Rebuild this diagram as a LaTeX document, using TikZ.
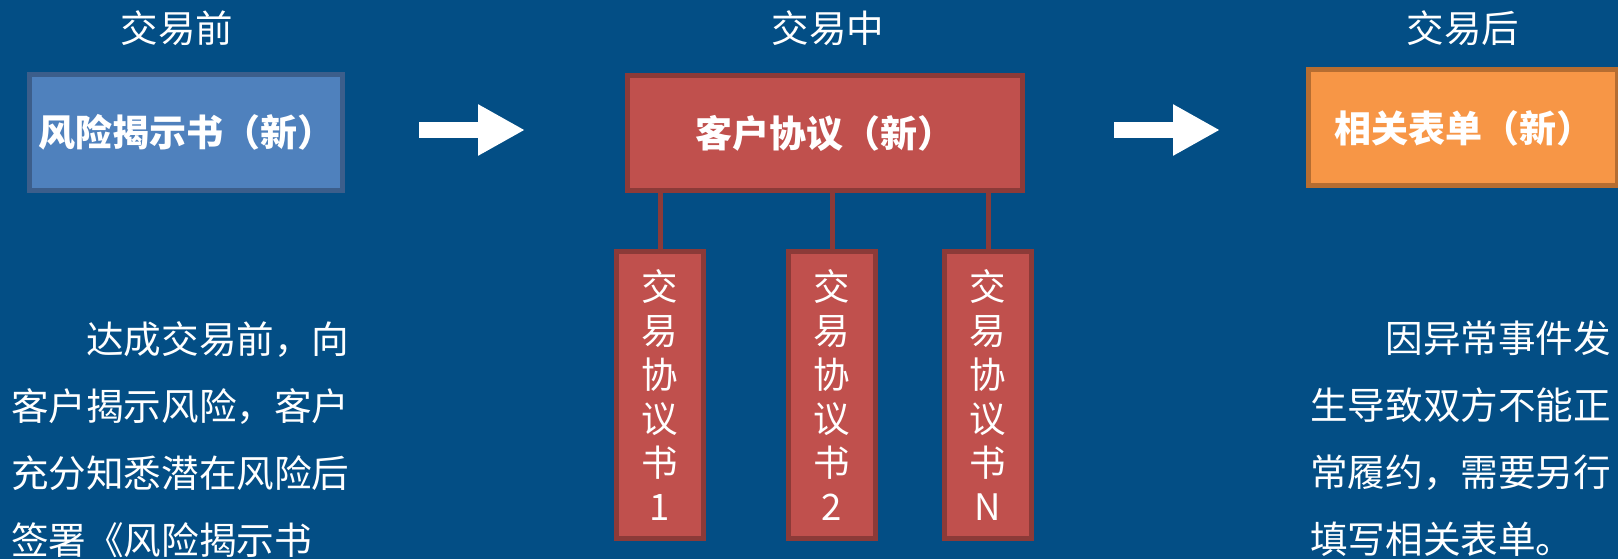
\documentclass[tikz,border=0pt]{standalone}
\usepackage{fontspec}
\setmainfont{Noto Sans CJK SC}
\usetikzlibrary{arrows.meta}
\definecolor{bgblue}{HTML}{034E85}
\definecolor{bluefill}{HTML}{4F81BD}
\definecolor{blueline}{HTML}{3C5E8B}
\definecolor{redfill}{HTML}{C0504D}
\definecolor{redline}{HTML}{8C3A38}
\definecolor{orfill}{HTML}{F79646}
\definecolor{orline}{HTML}{B66D31}
\tikzset{
  title/.style={text=white, font=\fontsize{37.5}{40}\selectfont, anchor=base, inner sep=0pt},
  mainbox/.style={line width=5pt, text=white, font=\bfseries\fontsize{37}{40}\selectfont, inner sep=0pt},
  subbox/.style={draw=redline, fill=redfill, line width=5pt, text=white, align=center,
    minimum width=87pt, minimum height=287pt, inner sep=0pt, font=\fontsize{36.5}{44}\selectfont},
  conn/.style={draw=redline, line width=5pt},
  bigarrow/.style={draw=white, line width=16pt, -{Triangle[length=47pt,width=48pt]}},
  para/.style={text=white, font=\fontsize{37.6}{67}\selectfont, align=left, inner sep=0pt, anchor=north west}
}
\begin{document}
\begin{tikzpicture}[x=1pt,y=-1pt]
\fill[bgblue] (0,0) rectangle (1618,559);
\useasboundingbox (0,0) rectangle (1618,559);
\clip (0,0) rectangle (1618,559);

\node[title] (t1) at (177,42.5) {交易前};
\node[title] (t2) at (828,42.5) {交易中};
\node[title] (t3) at (1463,42.5) {交易后};

\node[mainbox, draw=blueline, fill=bluefill, minimum width=313pt, minimum height=116pt] (blue) at (186,132.5) {风险揭示书（新）};
\node[mainbox, draw=redline, fill=redfill, minimum width=395pt, minimum height=115pt] (red) at (824.5,133) {客户协议（新）};
\node[mainbox, draw=orline, fill=orfill, minimum width=309pt, minimum height=116pt, text width=309pt, align=left] (orange) at (1463,128) {\hspace*{26pt}相关表单（新）};

\coordinate (a1s) at (419,130);
\coordinate (a1e) at (525,130);
\coordinate (a2s) at (1114,130);
\coordinate (a2e) at (1220,130);
\draw[bigarrow] (a1s) -- (a1e);
\draw[bigarrow] (a2s) -- (a2e);

\node[subbox] (s1) at (660,395) {交\\易\\协\\议\\书\\1};
\node[subbox] (s2) at (832,395) {交\\易\\协\\议\\书\\2};
\node[subbox] (s3) at (988,395) {交\\易\\协\\议\\书\\N};

\draw[conn] (s1.north) -- (s1.north |- red.south);
\draw[conn] (s2.north) -- (s2.north |- red.south);
\draw[conn] (s3.north) -- (s3.north |- red.south);

\node[para] (lp) at (11,321) {\hspace*{2em}达成交易前，向\\客户揭示风险，客户\\充分知悉潜在风险后\\签署《风险揭示书};
\node[para] (rp) at (1310,321) {\hspace*{2em}因异常事件发\\生导致双方不能正\\常履约，需要另行\\填写相关表单。};
\end{tikzpicture}
\end{document}
